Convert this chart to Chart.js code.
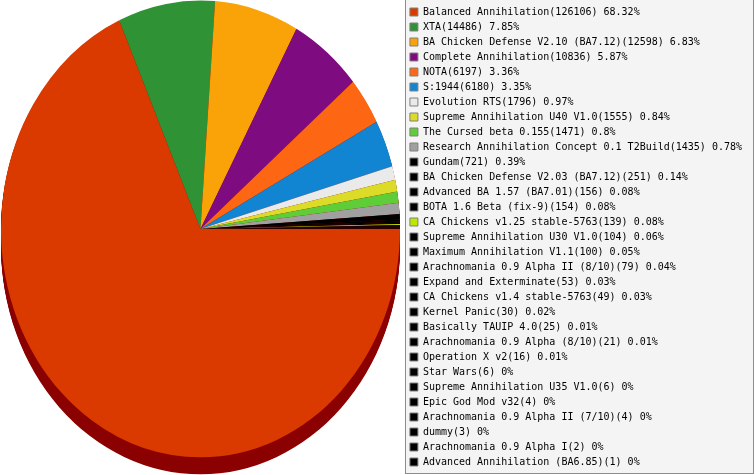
<!DOCTYPE html>
<html lang="en">

<head>
    <meta charset="UTF-8">
    <title>Mods</title>
    <script src="https://cdn.jsdelivr.net/npm/chart.js"></script>
    <style>
        html, body { margin: 0; padding: 0; background: #fff; }
        #wrap { width: 755px; height: 475px; }
    </style>
</head>

<body>
    <div id="wrap"><canvas id="chart"></canvas></div>

    <script>
        const mods = [
            'Balanced Annihilation', 'XTA', 'BA Chicken Defense V2.10 (BA7.12)', 'Complete Annihilation',
            'NOTA', 'S:1944', 'Evolution RTS', 'Supreme Annihilation U40 V1.0', 'The Cursed beta 0.155',
            'Research Annihilation Concept 0.1 T2Build', 'Gundam', 'BA Chicken Defense V2.03 (BA7.12)',
            'Advanced BA 1.57 (BA7.01)', 'BOTA 1.6 Beta (fix-9)', 'CA Chickens v1.25 stable-5763',
            'Supreme Annihilation U30 V1.0', 'Maximum Annihilation V1.1', 'Arachnomania 0.9 Alpha II (8/10)',
            'Expand and Exterminate', 'CA Chickens v1.4 stable-5763', 'Kernel Panic', 'Basically TAUIP 4.0',
            'Arachnomania 0.9 Alpha (8/10)', 'Operation X v2', 'Star Wars', 'Supreme Annihilation U35 V1.0',
            'Epic God Mod v32', 'Arachnomania 0.9 Alpha II (7/10)', 'dummy', 'Arachnomania 0.9 Alpha I',
            'Advanced Annihilation (BA6.85)'
        ];
        const games = [
            126106, 14486, 12598, 10836, 6197, 6180, 1796, 1555, 1471, 1435,
            721, 251, 156, 154, 139, 104, 100, 79, 53, 49,
            30, 25, 21, 16, 6, 6, 4, 4, 3, 2, 1
        ];
        const colors = [
            '#da3a00', '#2f9336', '#f9a308', '#7e0c80', '#fd6612', '#1185d1', '#eaeaea', '#dcdc28',
            '#5fcd37', '#a0a0a0', '#000000', '#000000', '#000000', '#000000', '#bce800', '#000000',
            '#000000', '#000000', '#000000', '#000000', '#000000', '#000000', '#000000', '#000000',
            '#000000', '#000000', '#000000', '#000000', '#000000', '#000000', '#000000'
        ];

        const total = games.reduce((a, b) => a + b, 0);
        const ASPECT = 1.145;   // pie is taller than wide
        const DEPTH = 17;       // thickness of the 3d edge
        const SIDE = '#8b0000';

        // ve pie thanh hinh elip + mat ben
        const pie3d = {
            id: 'pie3d',
            beforeDraw(chart) {
                const ctx = chart.ctx;
                const lg = chart.legend;
                ctx.save();
                ctx.fillStyle = '#f4f4f4';
                ctx.strokeStyle = '#8c8c8c';
                ctx.lineWidth = 1;
                const x = Math.round(lg.left) + 0.5;
                ctx.fillRect(x, -1, chart.width - 1.5 - x, 474);
                ctx.strokeRect(x, -1, chart.width - 1.5 - x, 474.5);
                ctx.restore();
            },
            beforeDatasetsDraw(chart) {
                const ctx = chart.ctx;
                const arc = chart.getDatasetMeta(0).data[0];
                const r = arc.outerRadius;
                const cx = r + 1;
                const cy = r * ASPECT + 0.5;
                ctx.save();
                ctx.fillStyle = SIDE;
                for (let d = 1; d <= DEPTH; d++) {
                    ctx.beginPath();
                    ctx.ellipse(cx, cy + d, r, r * ASPECT, 0, 0, Math.PI * 2);
                    ctx.fill();
                }
                ctx.translate(cx, cy);
                ctx.scale(1, ASPECT);
                ctx.translate(-arc.x, -arc.y);
            },
            afterDatasetsDraw(chart) {
                chart.ctx.restore();
            }
        };

        const ctx = document.getElementById('chart').getContext('2d');
        new Chart(ctx, {
            type: 'pie',
            data: {
                labels: mods,
                datasets: [{
                    data: games,
                    backgroundColor: colors,
                    borderWidth: 0,
                    radius: 199.5
                }]
            },
            options: {
                responsive: true,
                maintainAspectRatio: false,
                animation: false,
                rotation: 90,
                layout: { padding: { top: 2, right: 3 } },
                plugins: {
                    tooltip: { enabled: false },
                    legend: {
                        position: 'right',
                        align: 'start',
                        labels: {
                            boxWidth: 8,
                            boxHeight: 8,
                            padding: 5,
                            color: '#000',
                            font: { family: 'DejaVu Sans Mono', size: 10 },
                            generateLabels(chart) {
                                return mods.map((m, i) => ({
                                    text: m + '(' + games[i] + ') ' + Number((games[i] / total * 100).toFixed(2)) + '%',
                                    fillStyle: colors[i],
                                    strokeStyle: '#808080',
                                    lineWidth: 1,
                                    index: i
                                }));
                            }
                        }
                    }
                }
            },
            plugins: [pie3d]
        });
    </script>
</body>

</html>
